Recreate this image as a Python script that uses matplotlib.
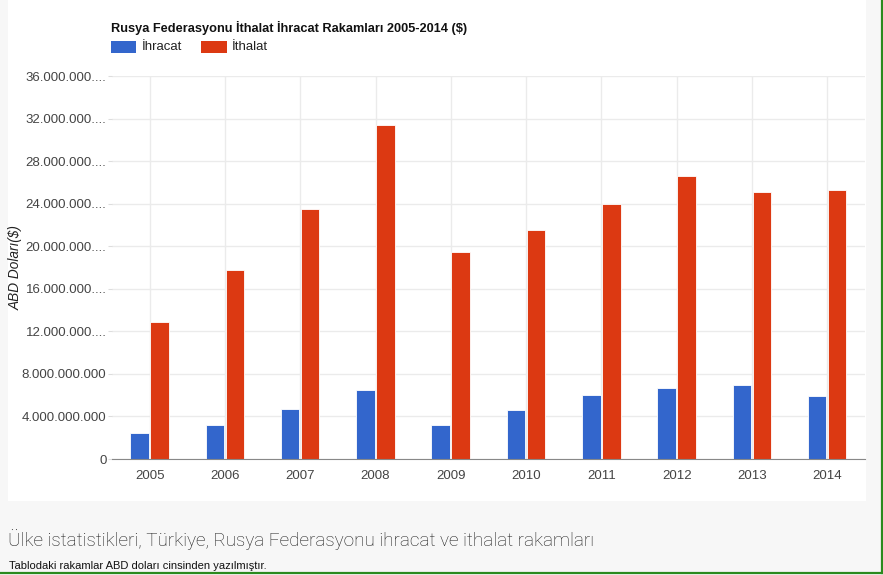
import matplotlib
matplotlib.use("Agg")
import matplotlib.pyplot as plt
import numpy as np
from matplotlib.patches import Rectangle

years = ["2005", "2006", "2007", "2008", "2009", "2010", "2011", "2012", "2013", "2014"]
ihracat = [2.42e9, 3.2e9, 4.7e9, 6.48e9, 3.2e9, 4.6e9, 5.98e9, 6.64e9, 6.95e9, 5.92e9]
ithalat = [12.9e9, 17.76e9, 23.5e9, 31.36e9, 19.45e9, 21.5e9, 23.97e9, 26.6e9, 25.1e9, 25.25e9]
ytick_vals = [0, 4e9, 8e9, 12e9, 16e9, 20e9, 24e9, 28e9, 32e9, 36e9]
ytick_labels = ["0", "4.000.000.000", "8.000.000.000", "12.000.000....", "16.000.000....",
                "20.000.000....", "24.000.000....", "28.000.000....", "32.000.000....", "36.000.000...."]
title = "Rusya Federasyonu İthalat İhracat Rakamları 2005-2014 ($)"
series_names = ["İhracat", "İthalat"]
colors = ["#3366cc", "#dc3912"]

plt.rcParams['font.family'] = ['Liberation Sans', 'DejaVu Sans']

W, H = 883, 575
fig = plt.figure(figsize=(W / 100, H / 100), dpi=100)
fig.patch.set_facecolor("#f7f7f7")

# white chart panel
fig.patches.append(Rectangle((8 / W, 1 - 501 / H), (866 - 8) / W, 501 / H,
                             transform=fig.transFigure, facecolor="white", edgecolor="none", zorder=-5))
# green border right and bottom
fig.lines.append(plt.Line2D([881.5 / W, 881.5 / W], [1 - 573 / H, 1], transform=fig.transFigure,
                            color="#2b8a1e", lw=1.6))
fig.lines.append(plt.Line2D([0, 881.5 / W], [1 - 573 / H, 1 - 573 / H], transform=fig.transFigure,
                            color="#2b8a1e", lw=1.6))

ax = fig.add_axes([112 / W, 1 - 459 / H, (865 - 112) / W, (459 - 76) / H], zorder=2)
ax.set_facecolor("white")
x = np.arange(len(years))
bw = 0.245
ax.bar(x - bw / 2 - 0.012, ihracat, width=bw, color=colors[0], edgecolor="white", linewidth=0.6, zorder=3)
ax.bar(x + bw / 2 + 0.008, ithalat, width=bw, color=colors[1], edgecolor="white", linewidth=0.6, zorder=3)

ax.set_xlim(-0.5, len(years) - 0.5)
ax.set_ylim(0, 36e9)
ax.set_yticks(ytick_vals)
ax.set_yticklabels(ytick_labels)
ax.set_xticks(x)
ax.set_xticklabels(years)
ax.tick_params(axis="y", length=3, color="#dddddd", labelsize=9.5, labelcolor="#444444", pad=1)
ax.tick_params(axis="x", length=0, labelsize=9.5, labelcolor="#444444", pad=8)
ax.grid(True, color="#ebebeb", lw=1, zorder=0)
for s in ["top", "right", "left"]:
    ax.spines[s].set_visible(False)
ax.spines["bottom"].set_color("#888888")
ax.spines["bottom"].set_zorder(4)

ax.set_ylabel("ABD Doları($)", fontsize=9.8, style="italic", color="#222222")
ax.yaxis.set_label_coords(-89 / (865 - 112), 0.5)

fig.text(111 / W, 1 - 28 / H, title, fontsize=9.2, fontweight="bold", color="#111111", va="center")
# legend
fig.patches.append(Rectangle((111 / W, 1 - 53 / H), 25 / W, 12 / H, transform=fig.transFigure,
                             facecolor=colors[0], edgecolor="none"))
fig.text(142 / W, 1 - 47 / H, series_names[0], fontsize=9.5, color="#222222", va="center")
fig.patches.append(Rectangle((201 / W, 1 - 53 / H), 26 / W, 12 / H, transform=fig.transFigure,
                             facecolor=colors[1], edgecolor="none"))
fig.text(232 / W, 1 - 47 / H, series_names[1], fontsize=9.5, color="#222222", va="center")

fig.text(8 / W, 1 - 540 / H, "Ülke istatistikleri, Türkiye, Rusya Federasyonu ihracat ve ithalat rakamları",
         fontsize=13.6, color="#1a1a1a", va="center", family=["Roboto", "DejaVu Sans"], fontweight="light")
fig.text(9 / W, 1 - 566 / H, "Tablodaki rakamlar ABD doları cinsinden yazılmıştır.",
         fontsize=8, color="#111111", va="center")

fig.savefig("out.png", dpi=100, facecolor=fig.get_facecolor())
